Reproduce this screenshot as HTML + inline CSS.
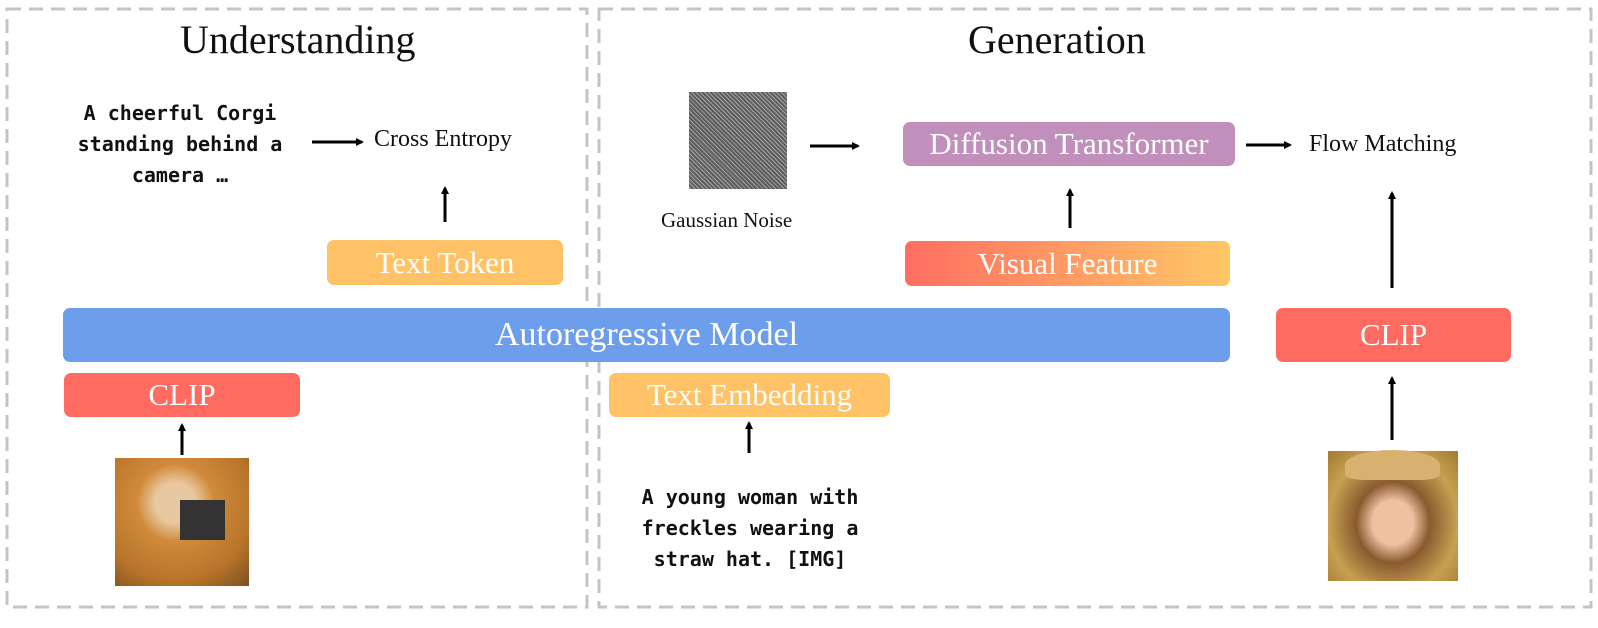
<!DOCTYPE html>
<html><head><meta charset="utf-8"><style>
body{margin:0;width:1598px;height:628px;background:#fff;position:relative;overflow:hidden;font-family:"Liberation Serif",serif}
.a{position:absolute}
.box{position:absolute;border-radius:7px;color:#fff;font-size:31px;display:flex;align-items:center;justify-content:center}
.mono{position:absolute;font-family:"DejaVu Sans Mono","Liberation Mono",monospace;font-weight:bold;font-size:20px;line-height:31px;text-align:center;color:#111}
.t{position:absolute;font-size:24px;color:#111}
</style></head><body>
<svg class="a" style="left:0;top:0" width="1598" height="628">
<g fill="none" stroke="#c4c4c4" stroke-width="3" stroke-dasharray="14 8">
<rect x="7" y="9" width="580" height="598"/>
<rect x="599" y="9" width="992" height="598"/>
</g></svg>
<div class="t" style="left:180px;top:16px;font-size:40px">Understanding</div>
<div class="t" style="left:968px;top:16px;font-size:40px">Generation</div>
<div class="mono" style="left:40px;top:98px;width:280px">A cheerful Corgi<br>standing behind a<br>camera …</div>
<div class="t" style="left:374px;top:126px">Cross Entropy</div>
<div class="t" style="left:1309px;top:131px">Flow Matching</div>
<div class="t" style="left:661px;top:208px;font-size:21px">Gaussian Noise</div>
<div class="mono" style="left:600px;top:482px;width:300px">A young woman with<br>freckles wearing a<br>straw hat. [IMG]</div>
<div class="box" style="left:327px;top:240px;width:236px;height:45px;background:#ffc266">Text Token</div>
<div class="box" style="left:903px;top:122px;width:332px;height:44px;background:#c18fbb">Diffusion Transformer</div>
<div class="box" style="left:905px;top:241px;width:325px;height:45px;background:linear-gradient(90deg,#ff6e61,#ffc766)">Visual Feature</div>
<div class="box" style="left:63px;top:308px;width:1167px;height:54px;background:#6d9eeb;font-size:34px">Autoregressive Model</div>
<div class="box" style="left:1276px;top:308px;width:235px;height:54px;background:#ff6b61">CLIP</div>
<div class="box" style="left:64px;top:373px;width:236px;height:44px;background:#ff6b61">CLIP</div>
<div class="box" style="left:609px;top:373px;width:281px;height:44px;background:#ffc266">Text Embedding</div>
<div class="a" style="left:689px;top:92px;width:98px;height:97px;background:repeating-linear-gradient(45deg,#555 0 1px,#999 1px 2px,#444 2px 3px),#777;opacity:.9"></div>
<div class="a" style="left:115px;top:458px;width:134px;height:128px;background:radial-gradient(circle at 45% 35%,#e8c8a0 0 18%,#d08a3a 35%,#b8742a 70%,#7a5020)"></div>
<div class="a" style="left:180px;top:500px;width:45px;height:40px;background:#333"></div>
<div class="a" style="left:1328px;top:451px;width:130px;height:130px;background:radial-gradient(ellipse at 50% 55%,#f0c0a0 0 22%,#8a5a30 40%,#c8a050 70%,#a07a30)"></div>
<div class="a" style="left:1345px;top:450px;width:95px;height:30px;border-radius:50% 50% 20% 20%;background:#d8b070"></div>
<svg class="a" style="left:0;top:0" width="1598" height="628">
<defs><marker id="m" markerWidth="8" markerHeight="8" refX="6" refY="4" orient="auto" markerUnits="userSpaceOnUse"><path d="M0,0L8,4L0,8z" fill="#000"/></marker></defs>
<g stroke="#000" stroke-width="3" marker-end="url(#m)">
<line x1="312" y1="142" x2="362" y2="142"/>
<line x1="445" y1="222" x2="445" y2="188"/>
<line x1="810" y1="146" x2="858" y2="146"/>
<line x1="1246" y1="145" x2="1290" y2="145"/>
<line x1="1070" y1="228" x2="1070" y2="190"/>
<line x1="1392" y1="288" x2="1392" y2="193"/>
<line x1="182" y1="455" x2="182" y2="425"/>
<line x1="749" y1="453" x2="749" y2="423"/>
<line x1="1392" y1="440" x2="1392" y2="378"/>
</g></svg>
</body></html>
